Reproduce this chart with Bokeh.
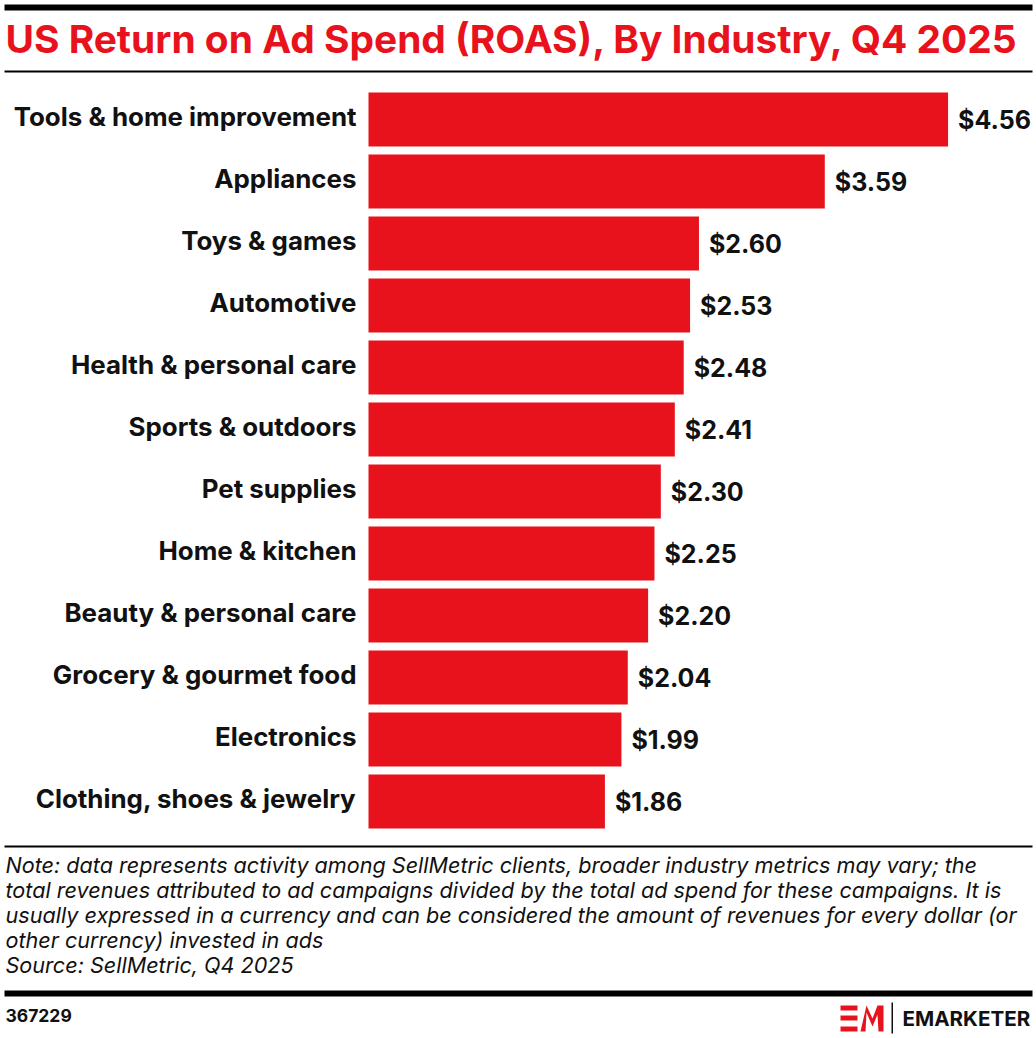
from bokeh.plotting import figure
from bokeh.models import Range1d, ColumnDataSource
from bokeh.core.properties import value
from bokeh.embed import file_html
from bokeh.resources import INLINE

# ---------------- data ----------------
categories = [
    "Tools & home improvement",
    "Appliances",
    "Toys & games",
    "Automotive",
    "Health & personal care",
    "Sports & outdoors",
    "Pet supplies",
    "Home & kitchen",
    "Beauty & personal care",
    "Grocery & gourmet food",
    "Electronics",
    "Clothing, shoes & jewelry",
]
roas = [4.56, 3.59, 2.60, 2.53, 2.48, 2.41, 2.30, 2.25, 2.20, 2.04, 1.99, 1.86]
value_labels = ["$%.2f" % v for v in roas]

title_text = "US Return on Ad Spend (ROAS), By Industry, Q4 2025"
note_lines = [
    "Note: data represents activity among SellMetric clients, broader industry metrics may vary; the",
    "total revenues attributed to ad campaigns divided by the total ad spend for these campaigns. It is",
    "usually expressed in a currency and can be considered the amount of revenues for every dollar (or",
    "other currency) invested in ads",
    "Source: SellMetric, Q4 2025",
]
chart_id = "367229"
brand = "EMARKETER"

# ---------------- layout constants ----------------
W, H = 1036, 1038
RED = "#e8121d"
INK = "#111111"
FONT = "Inter"
X0 = 368          # pixel where value 0 sits
SCALE = 127.1     # pixels per $1
ROW0 = 119        # pixel centre of first bar
PITCH = 62        # pixels between bars


def X(px):
    return (px - X0) / SCALE


def Y(py):
    return (py - ROW0) / PITCH


p = figure(
    width=W, height=H,
    x_range=Range1d(X(0), X(W)),
    y_range=Range1d(Y(H), Y(0)),
    x_axis_location=None, y_axis_location=None,
    toolbar_location=None, output_backend="svg",
    min_border=0, outline_line_color=None,
    background_fill_color="white", border_fill_color="white",
)
p.grid.visible = False

rows = list(range(len(categories)))
src = ColumnDataSource(dict(row=rows, cat=categories, v=roas, lbl=value_labels))

# bars
p.hbar(y="row", left=0, right="v", height=54 / PITCH, source=src,
       fill_color=RED, line_color=None)

# category labels
p.text(x=X(356), y="row", text="cat", source=src, text_align="right",
       text_baseline="middle", y_offset=-3, text_font=value(FONT),
       text_font_style="bold", text_font_size="25.9px", text_color=INK)

# value labels
p.text(x="v", y="row", text="lbl", source=src, text_align="left",
       text_baseline="middle", x_offset=10, text_font=value(FONT),
       text_font_style="bold", text_font_size="25px", text_color=INK)

# rules
def rule(top, bottom, left=4, right=1032):
    p.quad(left=X(left), right=X(right), top=Y(top), bottom=Y(bottom),
           fill_color="black", line_color=None)

rule(4, 10)
rule(70, 72)
rule(845, 847)
rule(990, 996)

# title
p.text(x=X(5), y=Y(38), text=[title_text], text_align="left",
       text_baseline="middle", text_font=value(FONT), text_font_style="bold",
       text_font_size="38.9px", text_color=RED)

# notes
for i, line in enumerate(note_lines):
    p.text(x=X(5), y=Y(864 + 25 * i), text=[line], text_align="left",
           text_baseline="middle", text_font=value(FONT),
           text_font_style="italic", text_font_size="21.6px", text_color=INK)

# chart id
p.text(x=X(5), y=Y(1015), text=[chart_id], text_align="left",
       text_baseline="middle", text_font=value(FONT), text_font_style="bold",
       text_font_size="17.5px", text_color=INK)

# logo: E made of three bars, M as polygon, divider, wordmark
for t, b in [(1005, 1010), (1015, 1020), (1026, 1031)]:
    p.quad(left=X(840), right=X(857), top=Y(t), bottom=Y(b),
           fill_color=RED, line_color=None)
p.patch(x=[X(v) for v in [860, 866, 872, 877, 883, 883, 878, 877, 872, 866, 865, 860]],
        y=[Y(v) for v in [1031, 1005, 1018, 1005, 1005, 1031, 1031, 1014, 1026, 1012, 1031, 1031]],
        fill_color=RED, line_color=None)
p.quad(left=X(891), right=X(892.5), top=Y(1002), bottom=Y(1033),
       fill_color=INK, line_color=None)
p.text(x=X(902), y=Y(1017.5), text=[brand], text_align="left",
       text_baseline="middle", text_font=value(FONT), text_font_style="bold",
       text_font_size="20.6px", text_color=INK)

open("out.html", "w").write(file_html(p, INLINE))
